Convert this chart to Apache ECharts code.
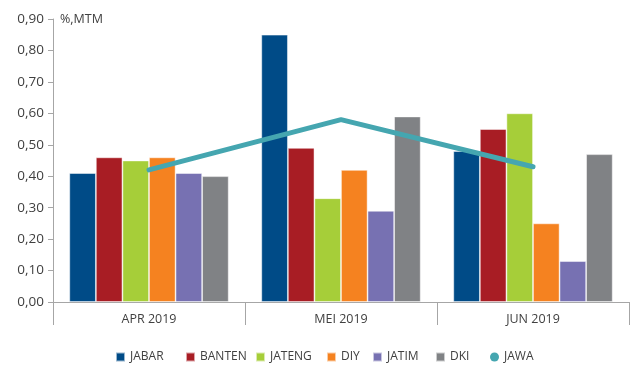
<!DOCTYPE html>
<html>
<head>
<meta charset="utf-8">
<script src="https://cdn.jsdelivr.net/npm/echarts@6/dist/echarts.min.js"></script>
<style>
  html, body { margin: 0; padding: 0; background: #fff; }
  #chart { width: 630px; height: 365px; }
</style>
</head>
<body>
<div id="chart"></div>
<script>
// Monthly month-to-month inflation (%) by province, Java region, 2019
const months = ['APR 2019', 'MEI 2019', 'JUN 2019'];
const jabar  = [0.41, 0.85, 0.48];
const banten = [0.46, 0.49, 0.55];
const jateng = [0.45, 0.33, 0.60];
const diy    = [0.46, 0.42, 0.25];
const jatim  = [0.41, 0.29, 0.13];
const dki    = [0.40, 0.59, 0.47];
const jawa   = [0.42, 0.58, 0.43];

const barSeries = [
  { name: 'JABAR',  data: jabar,  color: '#004B87' },
  { name: 'BANTEN', data: banten, color: '#A81D24' },
  { name: 'JATENG', data: jateng, color: '#A6CE39' },
  { name: 'DIY',    data: diy,    color: '#F58220' },
  { name: 'JATIM',  data: jatim,  color: '#7771B2' },
  { name: 'DKI',    data: dki,    color: '#808285' }
];
const lineColor = '#45A6B0';
const font = '"Open Sans", sans-serif';

// legend slots, left edge of each icon
const legendItems = [
  { name: 'JABAR',  icon: 'rect',   left: 115 },
  { name: 'BANTEN', icon: 'rect',   left: 185 },
  { name: 'JATENG', icon: 'rect',   left: 255 },
  { name: 'DIY',    icon: 'rect',   left: 326 },
  { name: 'JATIM',  icon: 'rect',   left: 372 },
  { name: 'DKI',    icon: 'rect',   left: 435 },
  { name: 'JAWA',   icon: 'circle', left: 490 }
];

const chart = echarts.init(document.getElementById('chart'), null, { renderer: 'canvas' });

const series = barSeries.map(s => ({
  name: s.name,
  type: 'bar',
  data: s.data,
  barGap: '0%',
  barCategoryGap: '17%',
  itemStyle: { color: s.color, borderColor: 'rgba(255,255,255,0.6)', borderWidth: 0.8 }
}));
series.push({
  name: 'JAWA',
  type: 'line',
  data: jawa,
  symbol: 'none',
  lineStyle: { color: lineColor, width: 5, cap: 'round' },
  itemStyle: { color: lineColor },
  z: 5
});

chart.setOption({
  animation: false,
  color: barSeries.map(s => s.color).concat([lineColor]),
  grid: { left: 53, right: 1, top: 19, bottom: 63, containLabel: false },
  legend: legendItems.map(it => ({
    top: 351,
    left: it.left,
    itemWidth: 9,
    itemHeight: 9,
    padding: 0,
    textStyle: { fontFamily: font, fontSize: 12, color: '#404040' },
    data: [{ name: it.name, icon: it.icon }]
  })),
  xAxis: {
    type: 'category',
    data: months,
    boundaryGap: true,
    axisLine: { lineStyle: { color: '#A6A6A6', width: 1 } },
    axisTick: { show: true, length: 23, lineStyle: { color: '#A6A6A6' } },
    axisLabel: { fontFamily: font, fontSize: 12.5, color: '#404040', margin: 11 }
  },
  yAxis: {
    type: 'value',
    min: 0,
    max: 0.9,
    interval: 0.1,
    name: '%,MTM',
    nameLocation: 'end',
    nameGap: 0,
    nameTextStyle: { fontFamily: font, fontSize: 12.5, color: '#404040', align: 'left', padding: [0, 0, 0, 7], verticalAlign: 'middle' },
    splitLine: { show: false },
    axisLine: { show: true, lineStyle: { color: '#A6A6A6' } },
    axisTick: { show: true, length: 5, lineStyle: { color: '#A6A6A6' } },
    axisLabel: {
      fontFamily: font, fontSize: 13.5, color: '#404040', margin: 9,
      formatter: v => v.toFixed(2).replace('.', ',')
    }
  },
  series: series
});
</script>
</body>
</html>
